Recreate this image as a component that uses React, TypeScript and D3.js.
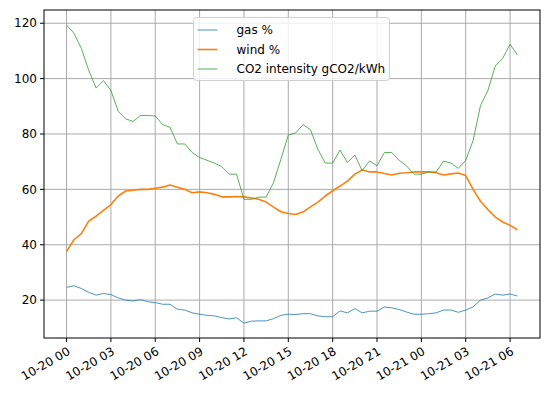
import React, { useEffect, useRef } from 'react';
import * as d3 from 'd3';

// half-hourly readings starting 10-20 00:00
const startTime = new Date(2023, 9, 20, 0, 0);
const stepMinutes = 30;

const gas = [
  24.6, 25.2, 24.2, 22.8, 21.8, 22.4, 22.0, 20.8, 20.0, 19.7,
  20.2, 19.4, 19.1, 18.5, 18.5, 16.7, 16.4, 15.4, 14.9, 14.5,
  14.3, 13.7, 13.2, 13.6, 11.7, 12.4, 12.5, 12.5, 13.3, 14.5,
  14.9, 14.8, 15.1, 15.1, 14.3, 14.0, 14.0, 16.1, 15.4, 16.9,
  15.4, 16.0, 16.0, 17.5, 17.2, 16.6, 15.7, 14.9, 14.9, 15.1,
  15.4, 16.4, 16.4, 15.6, 16.4, 17.6, 20.0, 20.8, 22.2, 21.8,
  22.2, 21.5,
];

const wind = [
  37.6, 41.8, 44.0, 48.5, 50.3, 52.4, 54.5, 57.6, 59.4, 59.7,
  60.0, 60.0, 60.4, 60.8, 61.6, 60.8, 60.0, 58.8, 59.1, 58.8,
  58.2, 57.3, 57.3, 57.4, 57.3, 56.9, 56.4, 55.4, 53.6, 51.9,
  51.3, 50.9, 51.9, 53.7, 55.4, 57.6, 59.5, 61.2, 63.0, 65.5,
  67.0, 66.3, 66.3, 65.7, 65.2, 65.8, 66.0, 66.3, 66.3, 66.3,
  66.0, 65.2, 65.6, 65.9, 65.0, 60.0, 55.7, 52.7, 50.0, 48.2,
  47.0, 45.4,
];

const co2 = [
  119.4, 116.4, 110.9, 103.0, 96.6, 99.3, 95.7, 88.2, 85.5, 84.5,
  86.7, 86.7, 86.5, 83.4, 82.4, 76.4, 76.4, 73.3, 71.5, 70.5,
  69.5, 68.2, 65.5, 65.5, 56.4, 56.4, 57.2, 57.2, 62.4, 70.9,
  79.6, 80.4, 83.4, 81.5, 74.5, 69.5, 69.5, 74.2, 69.7, 72.4,
  66.7, 70.3, 68.5, 73.3, 73.3, 70.5, 68.5, 65.5, 65.5, 66.3,
  66.3, 70.2, 69.5, 67.6, 70.5, 77.6, 90.3, 95.7, 104.6, 107.3,
  112.4, 108.5,
];

const seriesNames = ['gas %', 'wind %', 'CO2 intensity gCO2/kWh'];
const seriesColors = ['#1f77b4', '#ff7f0e', '#2ca02c'];
const seriesWidths = [0.8, 1.6, 0.8];
const yTicks = [20, 40, 60, 80, 100, 120];

export default function App() {
  const svgRef = useRef<SVGSVGElement>(null);

  useEffect(() => {
    if (!svgRef.current) return;
    const W = 550, H = 399;
    const left = 44, right = 540, top = 10, bottom = 338;
    const font = 'DejaVu Sans, sans-serif';

    const svg = d3.select(svgRef.current);
    svg.selectAll('*').remove();

    const times = gas.map((_, i) => d3.timeMinute.offset(startTime, i * stepMinutes));
    const t0 = +times[0], t1 = +times[times.length - 1];
    const tpad = (t1 - t0) * 0.05;
    const x = d3.scaleTime()
      .domain([new Date(t0 - tpad), new Date(t1 + tpad)])
      .range([left, right]);

    const all = [...gas, ...wind, ...co2];
    const ymin = d3.min(all)!, ymax = d3.max(all)!;
    const ypad = (ymax - ymin) * 0.05;
    const y = d3.scaleLinear().domain([ymin - ypad, ymax + ypad]).range([bottom, top]);

    const xTicks = d3.timeHour.every(3)!.range(times[0], new Date(t1 + 1));
    const fmt = d3.timeFormat('%m-%d %H');

    const g = svg.append('g');

    // grid
    g.selectAll('.vgrid').data(xTicks).enter().append('line')
      .attr('x1', d => x(d)).attr('x2', d => x(d))
      .attr('y1', top).attr('y2', bottom)
      .attr('stroke', '#aaaaaa').attr('stroke-width', 1);
    g.selectAll('.hgrid').data(yTicks).enter().append('line')
      .attr('x1', left).attr('x2', right)
      .attr('y1', d => y(d)).attr('y2', d => y(d))
      .attr('stroke', '#aaaaaa').attr('stroke-width', 1);

    // series
    const lists = [gas, wind, co2];
    lists.forEach((vals, k) => {
      const line = d3.line<number>()
        .x((_, i) => x(times[i]))
        .y(d => y(d));
      g.append('path')
        .datum(vals)
        .attr('fill', 'none')
        .attr('stroke', seriesColors[k])
        .attr('stroke-width', seriesWidths[k])
        .attr('stroke-linejoin', 'round')
        .attr('d', line);
    });

    // frame
    g.append('rect')
      .attr('x', left).attr('y', top)
      .attr('width', right - left).attr('height', bottom - top)
      .attr('fill', 'none').attr('stroke', '#000').attr('stroke-width', 1);

    // y axis ticks
    yTicks.forEach(v => {
      g.append('line')
        .attr('x1', left - 4).attr('x2', left)
        .attr('y1', y(v)).attr('y2', y(v))
        .attr('stroke', '#000');
      g.append('text')
        .attr('x', left - 7).attr('y', y(v))
        .attr('dy', '0.35em')
        .attr('text-anchor', 'end')
        .style('font-family', font).style('font-size', '12px')
        .attr('fill', '#000')
        .text(v);
    });

    // x axis ticks
    xTicks.forEach(d => {
      g.append('line')
        .attr('x1', x(d)).attr('x2', x(d))
        .attr('y1', bottom).attr('y2', bottom + 4)
        .attr('stroke', '#000');
      g.append('text')
        .attr('transform', `translate(${x(d)},${bottom + 8}) rotate(-30)`)
        .attr('dy', '0.75em')
        .attr('text-anchor', 'end')
        .style('font-family', font).style('font-size', '12px')
        .attr('fill', '#000')
        .text(fmt(d));
    });

    // legend
    const lx = 193.5, ly = 17.5, lw = 196, lh = 63;
    const leg = g.append('g');
    leg.append('rect')
      .attr('x', lx).attr('y', ly).attr('width', lw).attr('height', lh)
      .attr('rx', 3)
      .attr('fill', 'rgba(255,255,255,0.8)')
      .attr('stroke', '#d0d0d0');
    seriesNames.forEach((name, k) => {
      const yy = ly + 12.5 + k * 19.5;
      leg.append('line')
        .attr('x1', lx + 4).attr('x2', lx + 24)
        .attr('y1', yy).attr('y2', yy)
        .attr('stroke', seriesColors[k])
        .attr('stroke-width', seriesWidths[k]);
      leg.append('text')
        .attr('x', lx + 43).attr('y', yy)
        .attr('dy', '0.35em')
        .style('font-family', font).style('font-size', '12px')
        .attr('fill', '#000')
        .text(name);
    });

    svg.attr('width', W).attr('height', H);
  }, []);

  return (
    <svg
      ref={svgRef}
      width={550}
      height={399}
      style={{ position: 'absolute', left: 0, top: 0, background: '#fff' }}
    />
  );
}
